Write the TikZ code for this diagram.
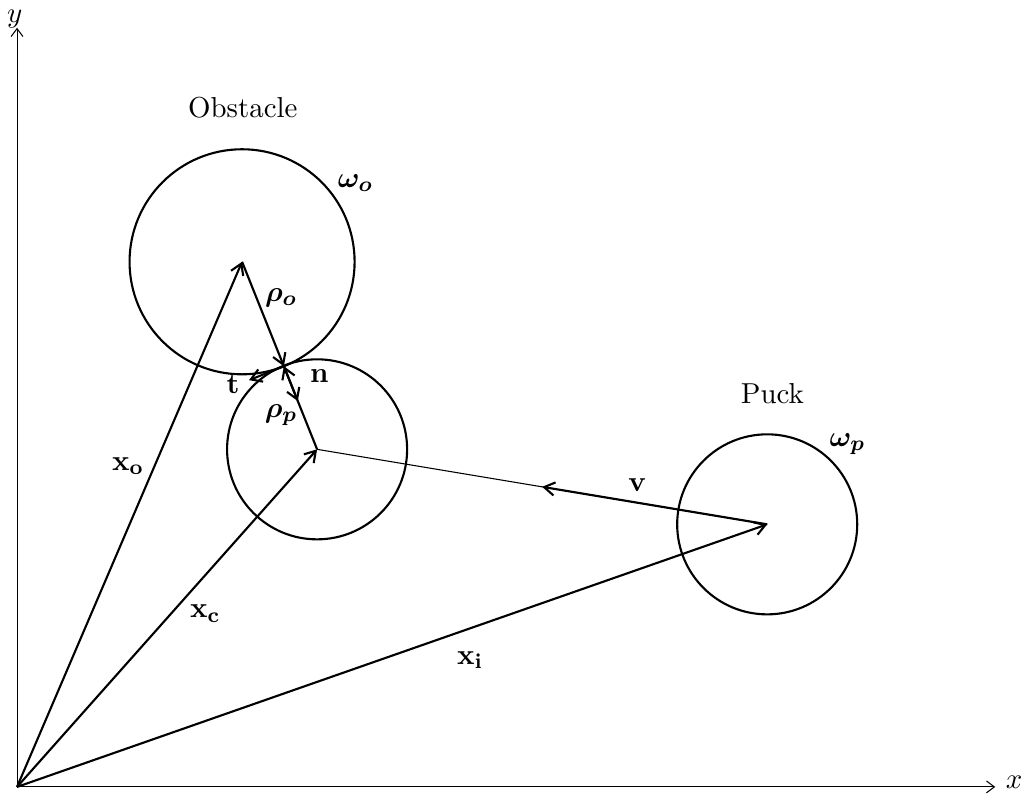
\documentclass[tikz,border=0pt,11pt]{standalone}
\usepackage{amsmath,amssymb,bm}
\usetikzlibrary{arrows.meta,positioning,calc}

\begin{document}
\begin{tikzpicture}[
  vec/.style={thick, -{Straight Barb[length=4pt,width=5pt]}},
  disk/.style={thick},
  axis/.style={-{Straight Barb[length=3pt,width=4.5pt]}},
  lbl/.style={inner sep=1pt}]
\useasboundingbox (-0.227,-0.133) rectangle (13.41,10.49);
% axes
\coordinate (orig) at (0,0);
\coordinate (xend) at (13.04,0);
\coordinate (yend) at (0,10.12);
\draw[axis] (orig) -- (xend);
\draw[axis] (orig) -- (yend);
\node[lbl] (xlab) at (13.29,0.06) {$x$};
\node[lbl] (ylab) at (-0.03,10.24) {$y$};
% centres
\coordinate (oc) at (3,7);
\coordinate (cc) at (4,4.5);
\coordinate (pc) at (10,3.5);
\coordinate (cp) at ($(oc)!1.5cm!(cc)$);
\coordinate (ntip) at ($(cp)!0.5cm!(cc)$);
\coordinate (ttip) at ($(cp)!0.5cm!-90:(cc)$);
\coordinate (vtip) at ($(pc)!0.5!(cc)$);
% circles
\draw[disk] (oc) circle (1.5);
\draw[disk] (cc) circle (1.2);
\draw[disk] (pc) circle (1.2);
% position vectors
\draw[vec] (orig) -- (oc);
\draw[vec] (orig) -- (cc);
\draw[vec] (orig) -- (pc);
% radii and contact frame
\draw[vec] (oc) -- (cp);
\draw[vec] (cc) -- (cp);
\draw[vec] (cp) -- (ntip);
\draw[vec] (cp) -- (ttip);
% velocity
\draw (cc) -- (pc);
\draw[vec] (pc) -- (vtip);
% labels
\node[lbl] (obsname) at (3.01,9.05) {Obstacle};
\node[lbl] (puckname) at (10.07,5.24) {Puck};
\node[lbl] (omo) at (4.51,8.05) {$\bm{\omega_o}$};
\node[lbl] (omp) at (11.07,4.57) {$\bm{\omega_p}$};
\node[lbl] (xo) at (1.48,4.28) {$\mathbf{x_o}$};
\node[lbl] (xc) at (2.51,2.31) {$\mathbf{x_c}$};
\node[lbl] (xi) at (6.04,1.69) {$\mathbf{x_i}$};
\node[lbl] (rho) at (3.52,6.52) {$\bm{\rho_o}$};
\node[lbl] (rhp) at (3.52,4.96) {$\bm{\rho_p}$};
\node[lbl] (tl) at (2.88,5.36) {$\mathbf{t}$};
\node[lbl] (nl) at (4.03,5.47) {$\mathbf{n}$};
\node[lbl] (vl) at (8.27,4.03) {$\mathbf{v}$};
\end{tikzpicture}
\end{document}
